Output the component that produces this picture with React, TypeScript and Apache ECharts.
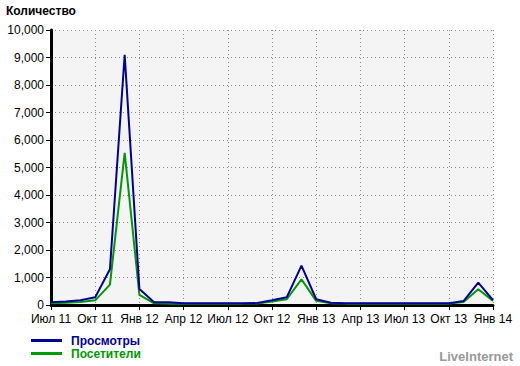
import React, { useEffect, useRef } from "react";
import * as echarts from "echarts";

const months = [
  "Июл 11", "Авг 11", "Сен 11", "Окт 11", "Ноя 11", "Дек 11",
  "Янв 12", "Фев 12", "Мар 12", "Апр 12", "Май 12", "Июн 12",
  "Июл 12", "Авг 12", "Сен 12", "Окт 12", "Ноя 12", "Дек 12",
  "Янв 13", "Фев 13", "Мар 13", "Апр 13", "Май 13", "Июн 13",
  "Июл 13", "Авг 13", "Сен 13", "Окт 13", "Ноя 13", "Дек 13",
  "Янв 14",
];

const views = [
  100, 130, 170, 280, 1300, 9100,
  580, 100, 100, 60, 60, 60,
  60, 60, 70, 170, 280, 1430,
  210, 85, 60, 60, 60, 60,
  60, 60, 60, 60, 145, 810,
  180,
];

const visitors = [
  60, 80, 110, 170, 740, 5530,
  370, 60, 50, 50, 50, 50,
  50, 50, 55, 130, 210, 930,
  150, 60, 50, 50, 50, 50,
  50, 50, 50, 50, 110, 570,
  150,
];

const seriesNames = ["Просмотры", "Посетители"];
const seriesColors = ["#000099", "#009900"];

const FONT = "'Liberation Sans', Arial, sans-serif";

export default function App() {
  const ref = useRef<HTMLDivElement>(null);
  useEffect(() => {
    if (!ref.current) return;
    const chart = echarts.init(ref.current, undefined, { renderer: "svg" });
    chart.setOption({
      animation: false,
      backgroundColor: "#ffffff",
      title: [
        {
          text: "Количество",
          left: 6,
          top: 4,
          padding: 0,
          textStyle: { fontFamily: FONT, fontSize: 12, fontWeight: "bold", color: "#000", lineHeight: 14 },
        },
        {
          text: "LiveInternet",
          right: 7,
          top: 349,
          padding: 0,
          textStyle: { fontFamily: FONT, fontSize: 13, fontWeight: "bold", color: "#999999", lineHeight: 14 },
        },
      ],
      legend: {
        orient: "vertical",
        left: 31,
        top: 334,
        itemWidth: 31,
        itemHeight: 3,
        itemGap: 0,
        icon: "rect",
        data: seriesNames.map((n, i) => ({
          name: n,
          textStyle: { color: seriesColors[i] },
        })),
        textStyle: {
          fontFamily: FONT,
          fontSize: 12,
          fontWeight: "bold",
          lineHeight: 13,
          padding: [0, 0, 0, 4],
        },
        padding: 0,
      },
      grid: {
        left: 51,
        right: 27,
        top: 30,
        bottom: 61,
        show: true,
        backgroundColor: "#f4f4f4",
        borderWidth: 0,
      },
      xAxis: {
        type: "category",
        data: months,
        boundaryGap: false,
        axisLine: { lineStyle: { color: "#000", width: 3 } },
        axisTick: { interval: 2, length: 5, lineStyle: { color: "#000", width: 1 } },
        axisLabel: {
          interval: 2,
          margin: 8,
          fontFamily: FONT,
          fontSize: 12,
          color: "#000",
        },
        splitLine: {
          show: true,
          interval: 2,
          lineStyle: { color: "#888", type: [1, 3], width: 1 },
        },
      },
      yAxis: {
        type: "value",
        min: 0,
        max: 10000,
        interval: 1000,
        axisLine: { show: true, lineStyle: { color: "#000", width: 3 } },
        axisTick: { show: true, length: 5, lineStyle: { color: "#000", width: 1 } },
        axisLabel: {
          margin: 7,
          fontFamily: FONT,
          fontSize: 12,
          color: "#000",
          formatter: (v: number) => v.toLocaleString("en-US"),
        },
        splitLine: {
          show: true,
          lineStyle: { color: "#888", type: [1, 3], width: 1 },
        },
      },
      series: [
        {
          name: seriesNames[1],
          type: "line",
          data: visitors,
          symbol: "none",
          lineStyle: { color: seriesColors[1], width: 2 },
          itemStyle: { color: seriesColors[1] },
          z: 2,
        },
        {
          name: seriesNames[0],
          type: "line",
          data: views,
          symbol: "none",
          lineStyle: { color: seriesColors[0], width: 2 },
          itemStyle: { color: seriesColors[0] },
          z: 3,
        },
      ],
    });
    return () => chart.dispose();
  }, []);
  return (
    <div
      ref={ref}
      style={{ position: "absolute", left: 0, top: 0, width: 520, height: 366 }}
    />
  );
}
